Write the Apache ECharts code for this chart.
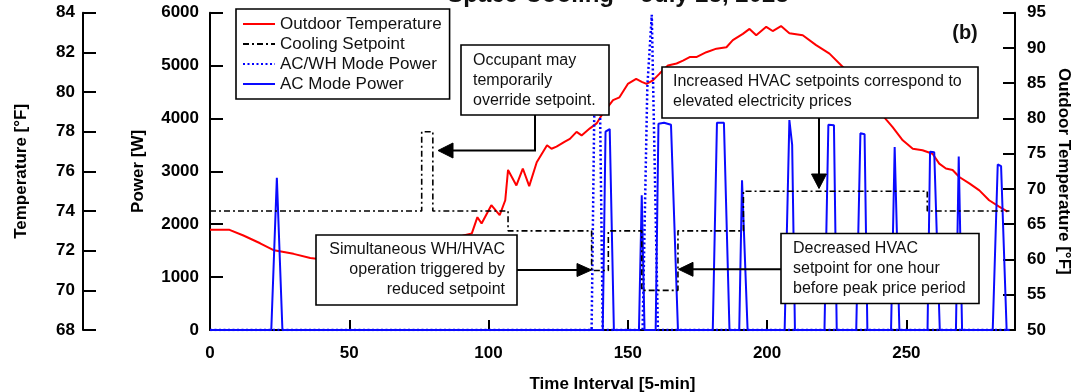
<!DOCTYPE html>
<html>
<head>
<meta charset="utf-8">
<script src="https://cdn.jsdelivr.net/npm/echarts@6/dist/echarts.min.js"></script>
<style>
html,body{margin:0;padding:0;background:#fff;}
#chart{width:1072px;height:392px;}
</style>
</head>
<body>
<div id="chart"></div>
<script>
// ---------------- data ----------------
const titleText = 'Space Cooling – July 25, 2023';
const seriesNames = ['Outdoor Temperature', 'Cooling Setpoint', 'AC/WH Mode Power', 'AC Mode Power'];

// Outdoor temperature [°F] (right axis)
const outdoorX = [0,7,12,18,23,30,36,45,55,65,75,85,91,94,96,97.5,98.7,101,104,106,107,110,112.3,114.6,117.3,121,122.6,124.4,127.4,129.2,131.6,133.4,136.4,138.8,141,144.7,147,150,153,155,156.7,159,161.5,164.4,167.5,169.8,172.2,174.6,178.2,181.8,185.4,187.7,191.3,193.7,196.1,199.7,202,205,208,212.8,217.6,222.4,227.2,235,242,245,248.7,252.3,255.8,259.4,261.8,264.2,266.6,269,272.6,276.2,279.7,283.3,286.3];
const outdoorT = [64.2,64.2,63.4,62.3,61.3,60.8,60.2,59.8,59.6,59.8,60.6,62.2,63.4,63.7,66.0,65.1,66.0,67.7,66.3,68.4,72.7,70.5,72.9,70.4,73.8,76.2,75.7,76.0,76.7,77.1,78.1,77.6,78.6,79.3,80.7,82.6,83.0,84.9,85.6,85.2,84.9,85.4,86.4,87.5,87.8,88.2,88.7,88.7,89.4,89.9,90.1,91.1,92.0,92.7,91.8,93.0,92.4,93.1,92.1,91.8,90.4,89.2,87.3,83.8,80.2,78.8,76.9,75.7,75.5,75.0,73.6,72.9,72.7,71.7,70.8,69.8,68.4,67.5,66.8];

// Cooling setpoint [°F] (left temperature axis), step changes
const setpointX = [0,76,80,107,137,143,155,168,191.5,257.5,287];
const setpointT = [74,78,74,73,71,73,70,73,75,74,74];

// AC/WH mode power [W]
const acwhX = [0,137,138,140,141,155.3,157,158.6,159.2,160.8,287];
const acwhP = [0,0,4300,4300,0,0,4600,5960,5960,0,0];

// AC mode power [W]
const acX = [0,22,24,26,141,142,143.5,145,154,155,156,160,161,163,165.5,168,180.5,182,184.5,186.5,190,191,193,206.3,208,209,210,220.6,222,224,225,232,233.5,235,236,244.5,245.8,246.5,247.5,257.6,258.5,260,262,267.8,268.8,270,281,282.8,284,286,287];
const acP = [0,0,2880,0,0,3750,3800,0,0,2550,0,0,3900,3920,3880,0,0,3920,3920,0,0,2830,0,0,3970,3500,0,0,3880,3870,0,0,3720,3700,0,0,3460,3440,0,0,3370,3360,0,0,3280,0,0,3130,3100,0,0];

// axis ranges / ticks
const xRange = [0, 289, 50];
const tempRange = [68, 84, 2];
const powerRange = [0, 6000, 1000];
const outRange = [50, 95, 5];

// annotation texts
const noteOverride = 'Occupant may\ntemporarily\noverride setpoint.';
const noteIncreased = 'Increased HVAC setpoints correspond to\nelevated electricity prices';
const noteSimul = 'Simultaneous WH/HVAC\noperation triggered by\nreduced setpoint';
const noteDecreased = 'Decreased HVAC\nsetpoint for one hour\nbefore peak price period';
const panelLabel = '(b)';

// ---------------- chart ----------------
const zip = (xs, ys) => xs.map((x, i) => [x, ys[i]]);
const FONT = '"Liberation Sans", Arial, sans-serif';
const chart = echarts.init(document.getElementById('chart'), null, {renderer: 'canvas'});

const boldLabel = {fontSize: 17, fontWeight: 'bold', color: '#000', fontFamily: FONT};
function yAxisBase(r, pos, offset, name, gap, margin, extra) {
  return Object.assign({
    type: 'value', position: pos, offset: offset,
    min: r[0], max: r[1], interval: r[2],
    name: name, nameLocation: 'middle', nameGap: gap, nameMoveOverlap: false,
    nameTextStyle: {fontSize: 17, fontWeight: 'bold', color: '#000', fontFamily: FONT},
    axisLine: {show: true, onZero: false, lineStyle: {color: '#000', width: 2}},
    axisTick: {show: true, inside: true, length: 13, lineStyle: {color: '#000', width: 2}},
    axisLabel: Object.assign({margin: margin, formatter: v => String(v)}, boldLabel),
    splitLine: {show: false}
  }, extra || {});
}

function textEl(txt, x, y, align, size, weight) {
  return {
    type: 'text', z: 100,
    style: {
      text: txt, x: x, y: y, fill: '#111',
      font: (weight || 'normal') + ' ' + size + 'px ' + FONT,
      textAlign: align, textVerticalAlign: 'middle',
      align: align, verticalAlign: 'middle', lineHeight: 20
    }
  };
}
function boxEl(x, y, w, h) {
  return {type: 'rect', z: 99, shape: {x: x, y: y, width: w, height: h},
    style: {fill: '#fff', stroke: '#000', lineWidth: 1.6}};
}
function lineEl(pts) {
  return {type: 'polyline', z: 100, shape: {points: pts}, style: {stroke: '#000', lineWidth: 2, fill: null}};
}
function headEl(pts) {
  return {type: 'polygon', z: 100, shape: {points: pts}, style: {fill: '#000', stroke: '#000', lineWidth: 1}};
}

const option = {
  animation: false,
  backgroundColor: '#fff',
  grid: {left: 210, right: 57, top: 12.7, bottom: 62, outerBoundsMode: 'none', containLabel: false},
  legend: {
    show: true, orient: 'vertical', left: 236, top: 9,
    padding: [5, 8, 5, 6], itemGap: 0, itemWidth: 32, itemHeight: 14,
    backgroundColor: '#fff', borderColor: '#000', borderWidth: 1.6, borderRadius: 0,
    selectedMode: false,
    itemStyle: {opacity: 0},
    textStyle: {fontSize: 17, color: '#111', fontFamily: FONT, lineHeight: 20},
    data: seriesNames
  },
  xAxis: {
    type: 'value', min: xRange[0], max: xRange[1], interval: xRange[2],
    name: 'Time Interval [5-min]', nameLocation: 'middle', nameGap: 45.5, nameMoveOverlap: false,
    nameTextStyle: {fontSize: 17, fontWeight: 'bold', color: '#000', fontFamily: FONT},
    axisLine: {show: true, onZero: false, lineStyle: {color: '#000', width: 2}},
    axisTick: {show: true, inside: true, length: 10, lineStyle: {color: '#000', width: 2}},
    axisLabel: Object.assign({margin: 15, showMaxLabel: false,
      formatter: v => (v % 50 === 0 ? String(v) : '')}, boldLabel),
    splitLine: {show: false}
  },
  yAxis: [
    yAxisBase(tempRange, 'left', 127, 'Temperature [°F]', 53, 8),
    yAxisBase(powerRange, 'left', 0, 'Power [W]', 62.7, 11),
    yAxisBase(outRange, 'right', 0, 'Outdoor Temperature [°F]', 40, 12, {nameRotate: -90,
      axisTick: {show: true, inside: true, length: 12, lineStyle: {color: '#000', width: 2}}})
  ],
  series: [
    {name: seriesNames[0], type: 'line', yAxisIndex: 2, data: zip(outdoorX, outdoorT),
      symbol: 'none', showSymbol: false, z: 3,
      lineStyle: {color: '#ff0000', width: 2}, itemStyle: {color: '#ff0000'}},
    {name: seriesNames[1], type: 'line', yAxisIndex: 0, step: 'end', data: zip(setpointX, setpointT),
      symbol: 'none', showSymbol: false, z: 5,
      lineStyle: {color: '#000', width: 1.6, type: [6, 3, 2, 3]}, itemStyle: {color: '#000'}},
    {name: seriesNames[2], type: 'line', yAxisIndex: 1, data: zip(acwhX, acwhP),
      symbol: 'none', showSymbol: false, z: 4,
      lineStyle: {color: '#0000ff', width: 2.5, type: [2, 2.5]}, itemStyle: {color: '#0000ff'}},
    {name: seriesNames[3], type: 'line', yAxisIndex: 1, data: zip(acX, acP),
      symbol: 'none', showSymbol: false, z: 4,
      lineStyle: {color: '#0a0aff', width: 2}, itemStyle: {color: '#0a0aff'}}
  ],
  graphic: {elements: [
    textEl(titleText, 618, -5, 'center', 24, 'bold'),
    textEl(panelLabel, 965, 33, 'center', 20, 'bold'),
    // override box
    boxEl(461, 45, 148, 70),
    textEl(noteOverride, 473, 81, 'left', 16),
    lineEl([[535, 115], [535, 150.5], [452, 150.5]]),
    headEl([[438, 150.5], [453, 143], [453, 158]]),
    // increased box
    boxEl(662, 67, 316, 51),
    textEl(noteIncreased, 673, 92, 'left', 16),
    lineEl([[819, 118], [819, 175]]),
    headEl([[819, 188.5], [811.5, 174], [826.5, 174]]),
    // simultaneous box
    boxEl(316, 235, 201, 70),
    textEl(noteSimul, 505, 270, 'right', 16),
    lineEl([[517, 270], [578, 270]]),
    headEl([[591.5, 270], [577, 263.5], [577, 276.5]]),
    // decreased box
    boxEl(781, 233.5, 198, 70),
    textEl(noteDecreased, 793, 269, 'left', 16),
    lineEl([[781, 269.3], [692, 269.3]]),
    headEl([[678.5, 269.3], [693, 262.3], [693, 276.3]])
  ]}
};
chart.setOption(option);
</script>
</body>
</html>
